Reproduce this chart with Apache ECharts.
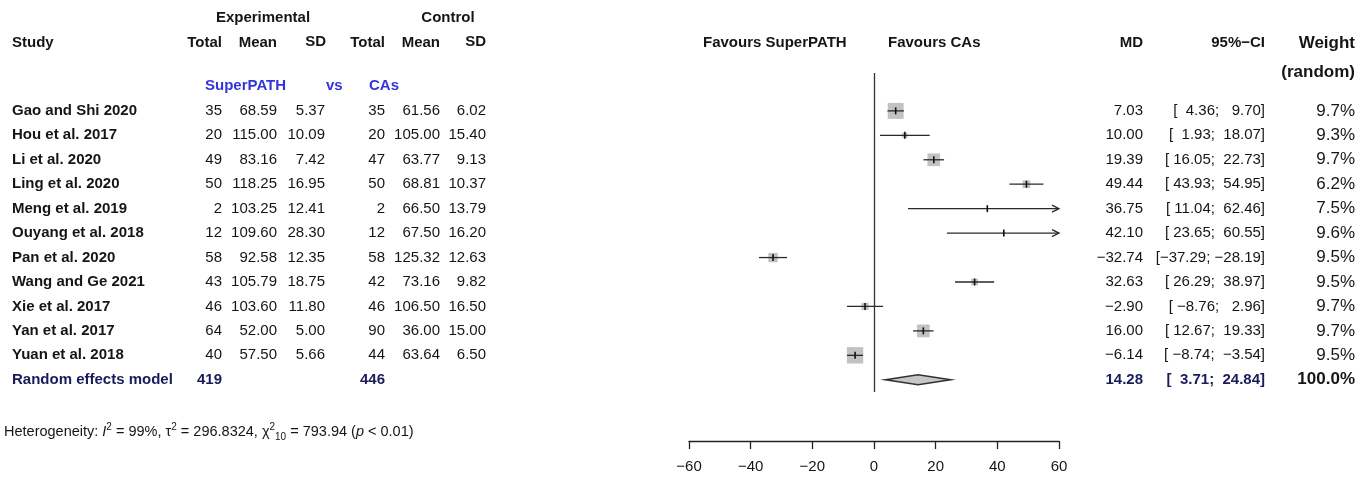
<!DOCTYPE html>
<html>
<head>
<meta charset="utf-8">
<script src="https://cdn.jsdelivr.net/npm/echarts@6/dist/echarts.min.js"></script>
<style>
  html, body { margin: 0; background: #fff; }
  #chart { width: 1368px; height: 479px; }
</style>
</head>
<body>
<div id="chart"></div>
<script>
const studies = [
  "Gao and Shi 2020", "Hou et al. 2017", "Li et al. 2020", "Ling et al. 2020",
  "Meng et al. 2019", "Ouyang et al. 2018", "Pan et al. 2020", "Wang and Ge 2021",
  "Xie et al. 2017", "Yan et al. 2017", "Yuan et al. 2018",
];
const expTotal = [35, 20, 49, 50, 2, 12, 58, 43, 46, 64, 40];
const expMean = [68.59, 115.0, 83.16, 118.25, 103.25, 109.6, 92.58, 105.79, 103.6, 52.0, 57.5];
const expSD = [5.37, 10.09, 7.42, 16.95, 12.41, 28.3, 12.35, 18.75, 11.8, 5.0, 5.66];
const ctlTotal = [35, 20, 47, 50, 2, 12, 58, 42, 46, 90, 44];
const ctlMean = [61.56, 105.0, 63.77, 68.81, 66.5, 67.5, 125.32, 73.16, 106.5, 36.0, 63.64];
const ctlSD = [6.02, 15.4, 9.13, 10.37, 13.79, 16.2, 12.63, 9.82, 16.5, 15.0, 6.5];
const md = [7.03, 10.0, 19.39, 49.44, 36.75, 42.1, -32.74, 32.63, -2.9, 16.0, -6.14];
const ciLower = [4.36, 1.93, 16.05, 43.93, 11.04, 23.65, -37.29, 26.29, -8.76, 12.67, -8.74];
const ciUpper = [9.7, 18.07, 22.73, 54.95, 62.46, 60.55, -28.19, 38.97, 2.96, 19.33, -3.54];
const weight = [9.7, 9.3, 9.7, 6.2, 7.5, 9.6, 9.5, 9.5, 9.7, 9.7, 9.5];

const pooledTotals = [419, 446];
const pooledMD = 14.28;
const pooledCI = [3.71, 24.84];
const pooledWeight = 100.0;

const xMin = -60;
const xMax = 60;
const xStep = 20;

const FONT = '"Liberation Sans", Arial, sans-serif';
const INK = "#151515";
const NAVY = "#1b1b5c";
const BLUE = "#3434dc";
const pooledRow = studies.length;

// right edges of the table columns (pixels)
const cols = {
  name: 12, eTotal: 222, eMean: 277, eSD: 325, cTotal: 385, cMean: 440, cSD: 486,
  md: 1143, ci: 1265, wt: 1355,
};

const minus = (s) => String(s).replace(/-/g, "\u2212");
const f2 = (v) => minus(v.toFixed(2));
const ci = (lo, hi) => "[" + f2(lo).padStart(6, " ") + "; " + f2(hi).padStart(6, " ") + "]";

function txt(x, y, text, font, align, fill) {
  return {
    type: "text",
    style: {
      x, y, text, font, fill: fill || INK,
      align, verticalAlign: "middle", textAlign: align, textVerticalAlign: "middle",
    },
  };
}

const chart = echarts.init(document.getElementById("chart"));

const rowAxis = { type: "value", min: -1.55, max: 11.5, inverse: true, show: false };

chart.setOption({
  animation: false,
  grid: [
    { left: 689, right: 309, top: 73, bottom: 87 },
    { left: 0, right: 0, top: 73, bottom: 87 },
  ],
  xAxis: [
    {
      gridIndex: 0,
      type: "value",
      min: xMin,
      max: xMax,
      interval: xStep,
      position: "bottom",
      offset: 49,
      splitLine: { show: false },
      axisLine: { onZero: false, lineStyle: { color: "#222", width: 1.3 } },
      axisTick: { length: 8, lineStyle: { color: "#222", width: 1.3 } },
      axisLabel: { fontSize: 15, color: INK, fontFamily: FONT, margin: 18, formatter: (v) => minus(v) },
    },
    { gridIndex: 1, type: "value", min: 0, max: 1368, show: false },
  ],
  yAxis: [
    Object.assign({ gridIndex: 0 }, rowAxis),
    Object.assign({ gridIndex: 1 }, rowAxis),
  ],
  graphic: [
    txt(263, 18, "Experimental", "bold 15px " + FONT, "center"),
    txt(448, 18, "Control", "bold 15px " + FONT, "center"),
    txt(12, 43, "Study", "bold 15px " + FONT, "left"),
    txt(cols.eTotal, 43, "Total", "bold 15px " + FONT, "right"),
    txt(cols.eMean, 43, "Mean", "bold 15px " + FONT, "right"),
    txt(cols.eSD + 1, 42, "SD", "bold 15px " + FONT, "right"),
    txt(cols.cTotal, 43, "Total", "bold 15px " + FONT, "right"),
    txt(cols.cMean, 43, "Mean", "bold 15px " + FONT, "right"),
    txt(cols.cSD, 42, "SD", "bold 15px " + FONT, "right"),
    txt(205, 86, "SuperPATH", "bold 15px " + FONT, "left", BLUE),
    txt(326, 86, "vs", "bold 15px " + FONT, "left", BLUE),
    txt(369, 86, "CAs", "bold 15px " + FONT, "left", BLUE),
    txt(703, 43, "Favours SuperPATH", "bold 15px " + FONT, "left"),
    txt(888, 43, "Favours CAs", "bold 15px " + FONT, "left"),
    txt(cols.md, 43, "MD", "bold 15px " + FONT, "right"),
    txt(cols.ci, 43, "95%\u2212CI", "bold 15px " + FONT, "right"),
    txt(cols.wt, 43, "Weight", "bold 17px " + FONT, "right"),
    txt(cols.wt, 72, "(random)", "bold 17px " + FONT, "right"),
    {
      type: "text",
      style: {
        x: 4, y: 432,
        verticalAlign: "middle", textVerticalAlign: "middle",
        text: "{n|Heterogeneity: }{i|I}{s|2}{n| = 99%, \u03c4}{s|2}{n| = 296.8324, \u03c7}{s|2}{b|10}{n| = 793.94 (}{i|p}{n| < 0.01)}",
        rich: {
          n: { font: "14.5px " + FONT, fill: INK, lineHeight: 20, verticalAlign: "middle" },
          i: { font: "italic 14.5px " + FONT, fill: INK, lineHeight: 20, verticalAlign: "middle" },
          s: { font: "10px " + FONT, fill: INK, lineHeight: 12, verticalAlign: "top" },
          b: { font: "10px " + FONT, fill: INK, lineHeight: 12, verticalAlign: "bottom" },
        },
      },
    },
  ],
  series: [
    {
      name: "studies",
      type: "custom",
      xAxisIndex: 0,
      yAxisIndex: 0,
      data: md.map((m, i) => [m, ciLower[i], ciUpper[i], i]),
      renderItem: (params, api) => {
        const m = api.value(0), lo = api.value(1), hi = api.value(2), row = api.value(3);
        const c = api.coord([m, row]);
        const left = api.coord([Math.max(lo, xMin), row])[0];
        const right = api.coord([Math.min(hi, xMax), row])[0];
        // box area follows the inverse-variance weight
        const side = 85 / (hi - lo);
        const children = [
          {
            type: "rect",
            shape: { x: c[0] - side / 2, y: c[1] - side / 2, width: side, height: side },
            style: { fill: "#c2c2c2" },
          },
          {
            type: "line",
            shape: { x1: left, y1: c[1], x2: right, y2: c[1] },
            style: { stroke: "#2a2a2a", lineWidth: 1.3 },
          },
          {
            type: "line",
            shape: { x1: c[0], y1: c[1] - 3.5, x2: c[0], y2: c[1] + 3.5 },
            style: { stroke: "#111", lineWidth: 1.6 },
          },
        ];
        if (hi > xMax) {
          children.push({
            type: "polyline",
            shape: { points: [[right - 7, c[1] - 3.5], [right, c[1]], [right - 7, c[1] + 3.5]] },
            style: { stroke: "#2a2a2a", lineWidth: 1.3, fill: null },
          });
        }
        return { type: "group", children };
      },
      markLine: {
        silent: true,
        symbol: "none",
        label: { show: false },
        lineStyle: { color: "#333", type: "solid", width: 1.3 },
        data: [{ xAxis: 0 }],
      },
    },
    {
      name: "pooled",
      type: "custom",
      xAxisIndex: 0,
      yAxisIndex: 0,
      data: [[pooledMD, pooledCI[0], pooledCI[1], pooledRow]],
      renderItem: (params, api) => {
        const row = api.value(3);
        const c = api.coord([api.value(0), row]);
        const l = api.coord([api.value(1), row])[0];
        const r = api.coord([api.value(2), row])[0];
        return {
          type: "polygon",
          shape: { points: [[l, c[1]], [c[0], c[1] - 5], [r, c[1]], [c[0], c[1] + 5]] },
          style: { fill: "#c6c6c6", stroke: "#333", lineWidth: 1.6 },
        };
      },
    },
    {
      name: "table",
      type: "custom",
      xAxisIndex: 1,
      yAxisIndex: 1,
      data: studies.map((s, i) => [i]),
      renderItem: (params, api) => {
        const i = params.dataIndex;
        const y = api.coord([0, api.value(0)])[1];
        const at = (k) => api.coord([cols[k], 0])[0];
        const reg = "15px " + FONT;
        return {
          type: "group",
          children: [
            txt(at("name"), y, studies[i], "bold 15px " + FONT, "left"),
            txt(at("eTotal"), y, String(expTotal[i]), reg, "right"),
            txt(at("eMean"), y, f2(expMean[i]), reg, "right"),
            txt(at("eSD"), y, f2(expSD[i]), reg, "right"),
            txt(at("cTotal"), y, String(ctlTotal[i]), reg, "right"),
            txt(at("cMean"), y, f2(ctlMean[i]), reg, "right"),
            txt(at("cSD"), y, f2(ctlSD[i]), reg, "right"),
            txt(at("md"), y, f2(md[i]), reg, "right"),
            txt(at("ci"), y, ci(ciLower[i], ciUpper[i]), reg, "right"),
            txt(at("wt"), y, weight[i].toFixed(1) + "%", "17px " + FONT, "right"),
          ],
        };
      },
    },
    {
      name: "pooledRow",
      type: "custom",
      xAxisIndex: 1,
      yAxisIndex: 1,
      data: [[pooledRow]],
      renderItem: (params, api) => {
        const y = api.coord([0, api.value(0)])[1];
        const at = (k) => api.coord([cols[k], 0])[0];
        const b = "bold 15px " + FONT;
        return {
          type: "group",
          children: [
            txt(at("name"), y, "Random effects model", b, "left", NAVY),
            txt(at("eTotal"), y, String(pooledTotals[0]), b, "right", NAVY),
            txt(at("cTotal"), y, String(pooledTotals[1]), b, "right", NAVY),
            txt(at("md"), y, f2(pooledMD), b, "right", NAVY),
            txt(at("ci"), y, ci(pooledCI[0], pooledCI[1]), b, "right", NAVY),
            txt(at("wt"), y, pooledWeight.toFixed(1) + "%", "bold 17px " + FONT, "right"),
          ],
        };
      },
    },
  ],
});
</script>
</body>
</html>
